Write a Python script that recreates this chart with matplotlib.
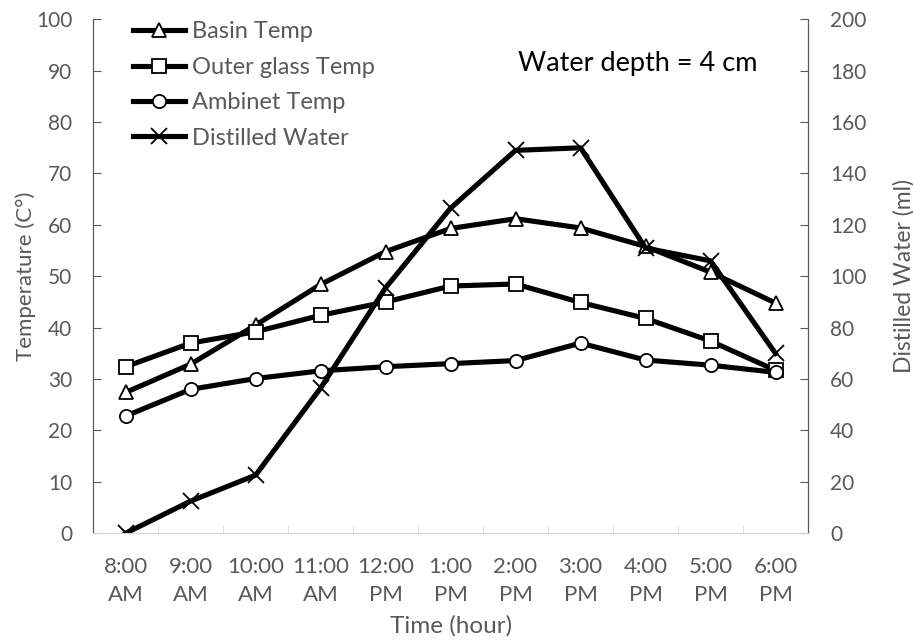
import matplotlib.pyplot as plt
from matplotlib.ticker import MultipleLocator, FixedLocator

plt.rcParams['font.family'] = ['Lato', 'DejaVu Sans']

hours = ['8:00\nAM', '9:00\nAM', '10:00\nAM', '11:00\nAM', '12:00\nPM', '1:00\nPM',
         '2:00\nPM', '3:00\nPM', '4:00\nPM', '5:00\nPM', '6:00\nPM']
basin_temp = [27.4, 32.9, 40.5, 48.4, 54.8, 59.3, 61.2, 59.4, 55.8, 50.8, 44.8]
glass_temp = [32.4, 37.0, 39.2, 42.4, 45.0, 48.1, 48.5, 44.9, 41.8, 37.4, 31.7]
ambient_temp = [22.8, 28.0, 30.1, 31.6, 32.4, 33.0, 33.6, 37.0, 33.7, 32.7, 31.3]
distilled = [0, 12.5, 22.6, 56.5, 95.5, 126.5, 149, 150, 111, 106, 70]

grey = '#595959'
x = list(range(len(hours)))
line_kw = dict(color='black', lw=3.7, markersize=9.5, markerfacecolor='white',
               markeredgecolor='black', markeredgewidth=1.3)

fig = plt.figure(figsize=(9.13, 6.44), dpi=100)
ax = fig.add_axes([0.102, 0.172, 0.783, 0.798])
ax2 = ax.twinx()

h1, = ax.plot(x, basin_temp, marker='^', label='Basin Temp', **line_kw)
h2, = ax.plot(x, glass_temp, marker='s', label='Outer glass Temp', **line_kw)
h3, = ax.plot(x, ambient_temp, marker='o', label='Ambinet Temp', **line_kw)
h4, = ax2.plot(x, distilled, marker='x', label='Distilled Water',
               color='black', lw=3.7, markersize=11, markeredgewidth=1.3)

ax.set_xlim(-0.5, len(hours) - 0.5)
ax.set_ylim(0, 100)
ax2.set_ylim(0, 200)
ax.yaxis.set_major_locator(MultipleLocator(10))
ax2.yaxis.set_major_locator(MultipleLocator(20))

# category labels centred, tick marks between categories
ax.set_xticks(x)
ax.set_xticklabels(hours, linespacing=1.5)
ax.xaxis.set_minor_locator(FixedLocator([i + 0.5 for i in x]))
ax.tick_params(axis='x', which='major', length=0, pad=17, labelsize=16, labelcolor=grey)
ax.tick_params(axis='x', which='minor', length=6, direction='in', color='#d9d9d9')
ax.tick_params(axis='y', direction='in', length=6, color=grey, labelsize=15,
               labelcolor=grey, pad=15)
ax2.tick_params(axis='y', direction='in', length=6, color=grey, labelsize=15,
                labelcolor=grey, pad=16)

for a in (ax, ax2):
    a.spines['top'].set_visible(False)
    a.spines['left'].set_color(grey)
    a.spines['right'].set_color(grey)
    a.spines['bottom'].set_color('#d9d9d9')

ax.set_xlabel('Time (hour)', fontsize=17.5, color=grey, labelpad=7)
ax.set_ylabel('Temperature (C°)', fontsize=16, color=grey, labelpad=0)
ax2.set_ylabel('Distilled Water (ml)', fontsize=16.5, color=grey, labelpad=19)

ax2.text(0.594, 0.914, 'Water depth = 4 cm', transform=ax.transAxes,
         fontsize=19.5, color='black', va='center')

leg = ax2.legend(handles=[h1, h2, h3, h4], loc='upper left', frameon=False,
                 fontsize=17, handlelength=2.2, handletextpad=0.3,
                 labelspacing=0.61, borderaxespad=0.0, borderpad=0.0,
                 bbox_to_anchor=(0.056, 0.996))
for t in leg.get_texts():
    t.set_color(grey)

fig.savefig('out.png', dpi=100)
